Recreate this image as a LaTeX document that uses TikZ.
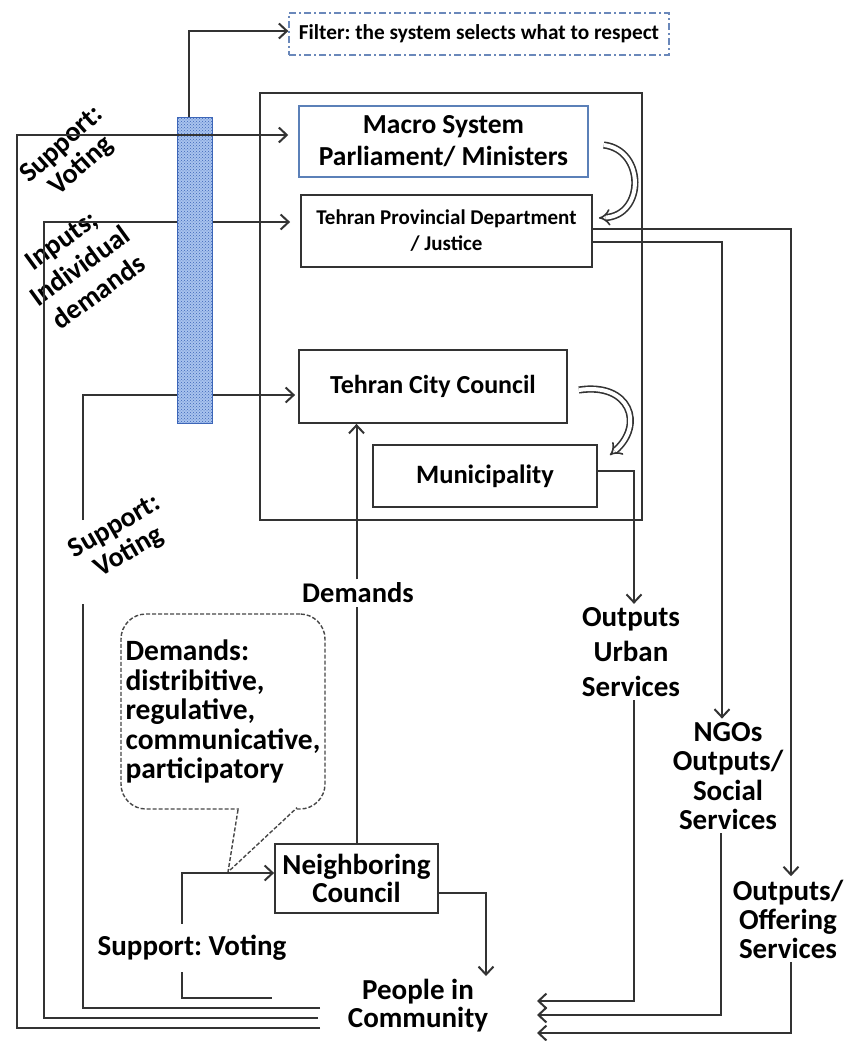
\documentclass[tikz,border=0pt]{standalone}
\usepackage{fontspec}
\setmainfont{Carlito}
\usetikzlibrary{arrows.meta,patterns,calc}

\definecolor{ln}{HTML}{333333}
\definecolor{macroblue}{HTML}{5B80B8}
\definecolor{filterblue}{HTML}{6A88BA}
\definecolor{barfill}{HTML}{A8C3EE}
\definecolor{bardot}{HTML}{3D66B8}

\frenchspacing
\begin{document}
\begin{tikzpicture}[x=1pt,y=-1pt,
  every node/.style={font=\bfseries\fontsize{29}{34}\selectfont, text=black},
  box/.style={draw=ln, line width=1.8pt, inner sep=2pt},
  link/.style={draw=ln, line width=2pt, line join=miter,
               -{Straight Barb[length=8pt,width=15pt]}},
  plain/.style={draw=ln, line width=2pt, line join=miter},
  hollow/.style={draw=ln, line width=1.6pt, double=white, double distance=4pt,
                 -{Implies}},
  bubbleline/.style={draw=ln!90, line width=1.4pt, dash pattern=on 4pt off 2pt}
]
\useasboundingbox (0,0) rectangle (843,1041);

% the political system frame
\node[box, minimum width=382pt, minimum height=427pt] (sys) at (451,306.5) {};

% organisations inside the system
\node[box, draw=macroblue, line width=1.5pt, minimum width=289pt, minimum height=71pt,
      align=center, font=\bfseries\fontsize{27.5}{32}\selectfont] (macro) at (443.5,141.5)
      {Macro System\\Parliament/ Ministers};
\node[box, minimum width=291pt, minimum height=72pt, align=center,
      font=\bfseries\fontsize{21}{26}\selectfont] (prov) at (446.5,231)
      {Tehran Provincial Department\\/ Justice};
\node[box, minimum width=268pt, minimum height=73pt, font=\bfseries\fontsize{26}{31}\selectfont]
      (city) at (433,386.5) {Tehran City Council};
\node[box, minimum width=224pt, minimum height=62pt, font=\bfseries\fontsize{26.5}{31}\selectfont]
      (muni) at (485,476) {Municipality};

% filter label
\node[draw=filterblue, line width=1.3pt, dash pattern=on 7pt off 3pt on 2pt off 3pt,
      minimum width=380pt, minimum height=42pt,
      font=\bfseries\fontsize{21.3}{24}\selectfont] (filter) at (479,34)
      {Filter: the system selects what to respect};

% community side
\node[box, minimum width=163pt, minimum height=69pt, align=center,
      font=\bfseries\fontsize{29}{28}\selectfont] (neigh) at (356.5,878.5)
      {Neighboring\\Council};
\node[align=center, font=\bfseries\fontsize{29}{28}\selectfont] (people) at (418,1006)
      {People in\\Community};
\node[align=center, font=\bfseries\fontsize{29}{35}\selectfont] (outurb) at (631,652)
      {Outputs\\Urban\\Services};
\node[align=center, font=\bfseries\fontsize{29}{29.5}\selectfont] (ngo) at (728,776)
      {NGOs\\Outputs/\\Social\\Services};
\node[align=center, font=\bfseries\fontsize{29}{29}\selectfont] (offer) at (788,919)
      {Outputs/\\Offering\\Services};
\node[font=\bfseries\fontsize{28.5}{34}\selectfont] (demlbl) at (358,593) {Demands};
\node (supvote) at (192,948) {Support: Voting};

% demand types bubble
\node[draw=ln!90, line width=1.4pt, dash pattern=on 4pt off 2pt, rounded corners=25pt,
      minimum width=204pt, minimum height=195pt, align=left,
      font=\bfseries\fontsize{29.5}{29.5}\selectfont, inner sep=3pt] (bubble) at (223,711.5)
      {Demands:\\distribitive,\\regulative,\\communicative,\\participatory};
\coordinate (tip) at (228,872);
\fill[white] ([xshift=16pt,yshift=3pt]bubble.south) rectangle ([xshift=73pt,yshift=-3pt]bubble.south);
\draw[bubbleline] ([xshift=15pt]bubble.south) -- (tip) -- ([xshift=74pt,yshift=2pt]bubble.south);

% rotated input labels
\node[rotate=42, align=center, font=\bfseries\fontsize{28}{29}\selectfont] (supv1) at (72,156)
      {Support:\\Voting};
\node[rotate=36, align=center, font=\bfseries\fontsize{28}{32}\selectfont] (inp) at (80,266)
      {Inputs;\\Individual\\demands};
\node[rotate=30, align=center, font=\bfseries\fontsize{28}{29}\selectfont] (supv2) at (122,540)
      {Support:\\Voting};

% feedback buses from the community
\coordinate (busA) at (17,1028);  \coordinate (endA) at (320,1028);
\coordinate (busB) at (44,1018);  \coordinate (endB) at (318,1018);
\coordinate (busC) at (83,1008);  \coordinate (endC) at (320,1008);
\coordinate (gapTop) at (83,520); \coordinate (gapBot) at (83,604);

\draw[link, shorten >=10pt] (endB) -- (busB) |- ([yshift=9pt]prov.west);
\draw[plain] (endC) -- (busC) -- (gapBot);
\draw[link, shorten >=3pt] (gapTop) |- ([yshift=-8.5pt]city.west);

% filter bar
\node[draw=bardot, line width=1pt, preaction={fill=barfill}, pattern=crosshatch dots,
      pattern color=bardot, minimum width=35pt, minimum height=306pt, inner sep=0pt]
      (bar) at (194.5,270) {};
\draw[link] ([xshift=-5.5pt]bar.north) |- ([yshift=3pt]filter.west);
\draw[link, shorten >=10pt] (endA) -- (busA) |- ([yshift=6.5pt]macro.west);

% transfer of decisions inside the system
\draw[hollow] ([xshift=15pt,yshift=-3.5pt]macro.east) .. controls (645,150) and (645,215) ..
      ([xshift=6pt,yshift=13pt]prov.east);
\draw[hollow] ([xshift=11pt,yshift=-3.5pt]city.east) .. controls (630,382) and (645,425) ..
      ([xshift=12pt,yshift=-11pt]muni.north east);

% demands of the neighbourhood council
\draw[plain] (neigh.north) -- (neigh.north |- demlbl.south);
\draw[link] (neigh.north |- demlbl.north) -- (neigh.north |- city.south);

% local voting
\draw[link, shorten <=8pt] ([xshift=-10pt]supvote.north) |- ([yshift=5.5pt]neigh.west);
\coordinate (svEnd) at (272,998);
\draw[plain, shorten <=8pt] ([xshift=-10pt]supvote.south) |- (svEnd);
\draw[link] ([yshift=-14.5pt]neigh.east) -| ([xshift=68pt]people.north);

% outputs
\coordinate (inA) at (537,1001);
\coordinate (inB) at (537,1015);
\coordinate (inC) at (537,1033);
\draw[link] ([yshift=5pt]muni.east) -| ([xshift=3pt]outurb.north);
\draw[link] ([xshift=3pt]outurb.south) |- (inA);
\draw[link] ([yshift=-11pt]prov.east) -| ([xshift=-6pt]ngo.north);
\draw[link] ([xshift=-7pt]ngo.south) |- (inB);
\draw[link] ([yshift=2pt]prov.east) -| ([xshift=3pt]offer.north);
\draw[link] ([xshift=3pt]offer.south) |- (inC);
\end{tikzpicture}
\end{document}
